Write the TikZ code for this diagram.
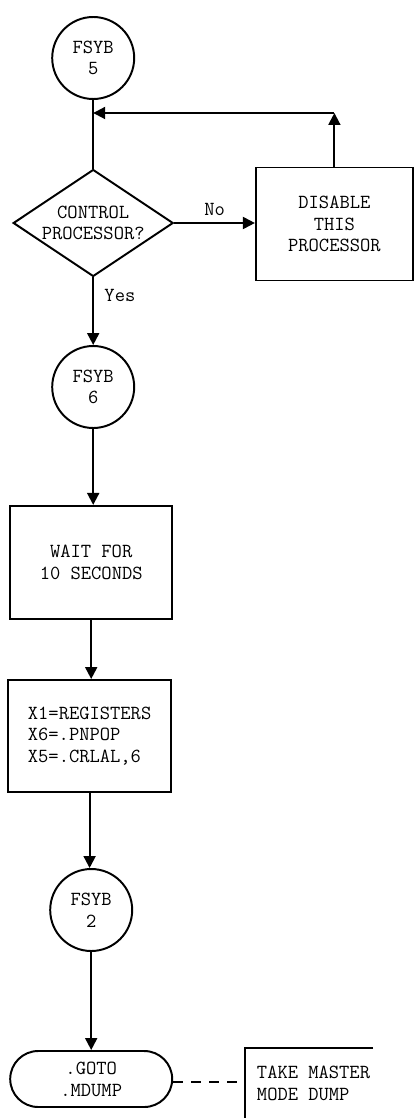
\documentclass[tikz,border=0pt]{standalone}
\usepackage{tikz}
\usetikzlibrary{arrows.meta,shapes.geometric,positioning}

\begin{document}
\begin{tikzpicture}[every node/.style={font=\ttfamily\fontsize{14.2}{15.5}\selectfont},
  flow/.style={-{Triangle[length=3mm,width=3mm]}, line width=1.4pt},
  conn/.style={circle, draw, line width=1.4pt, minimum size=2.05cm, inner sep=0pt, align=center},
  procbox/.style={rectangle, draw, line width=1.4pt, inner sep=2pt},
  decide/.style={diamond, draw, line width=1.4pt, inner sep=0pt, aspect=1.5, align=center}]

%% ── Page frame (1cm = 40px) ──────────────────────────────────────────────────
\useasboundingbox (0,0) rectangle (10.375,-27.95);

%% ── Main column ──────────────────────────────────────────────────────────────
\node[conn] (fsyb5) at (2.33, -1.45) {FSYB\\5};
\coordinate (merge) at (2.33, -2.825);

\node[decide, minimum width=4cm, minimum height=2.675cm] (ctrl) at (2.33, -5.575)
  {CONTROL\\PROCESSOR?};

\node[conn] (fsyb6) at (2.33, -9.675) {FSYB\\6};

\node[procbox, minimum width=4.05cm, minimum height=2.825cm, align=center]
  (wait) at (2.28, -14.06) {WAIT FOR\\10 SECONDS};

\node[procbox, minimum width=4.075cm, minimum height=2.8cm, align=left]
  (regs) at (2.24, -18.4) {X1=REGISTERS\\X6=.PNPOP\\X5=.CRLAL,6};

\node[conn] (fsyb2) at (2.28, -22.75) {FSYB\\2};

\node[procbox, rounded corners=0.7cm, minimum width=4.05cm, minimum height=1.4cm,
      align=center] (goto) at (2.28, -26.975) {.GOTO\\.MDUMP};

%% ── Side branch ──────────────────────────────────────────────────────────────
\node[procbox, minimum width=3.925cm, minimum height=2.825cm, align=center]
  (disable) at (8.36, -5.6) {DISABLE\\THIS\\PROCESSOR};
\coordinate (loop) at (disable.north |- merge);

%% ── Connectors ───────────────────────────────────────────────────────────────
\draw[line width=1.4pt] (fsyb5) -- (ctrl.north);
\draw[flow] (ctrl.east) -- (ctrl.east -| disable.west)
  node[midway, above=1pt] {No};
\draw[flow] (disable.north) -- (loop);
\draw[line width=1.4pt] (loop) -- ([xshift=2.9mm]merge);
\draw[flow] (loop) -- (merge);
\draw[flow] (ctrl.south) -- (fsyb6.north)
  node[pos=0.26, right=4pt] {Yes};
\draw[flow] (fsyb6) -- (fsyb6 |- wait.north);
\draw[flow] (wait) -- (wait |- regs.north);
\draw[flow] (regs) -- (regs |- fsyb2.north);
\draw[flow] (fsyb2) -- (fsyb2 |- goto.north);

%% ── Annotation ───────────────────────────────────────────────────────────────
\coordinate (notetop) at (9.33, -26.2);
\coordinate (notebot) at (6.125, -27.95);
\coordinate (notejoin) at (6.125, -27.05);
\draw[line width=1.4pt] (notetop) -| (notebot);
\draw[line width=1.4pt, dash pattern=on 2.5mm off 2mm] (goto.east |- notejoin) -- (notejoin);
\node[anchor=west, align=left] (note) at (6.3, -27.075) {TAKE MASTER\\MODE DUMP};

\end{tikzpicture}
\end{document}
